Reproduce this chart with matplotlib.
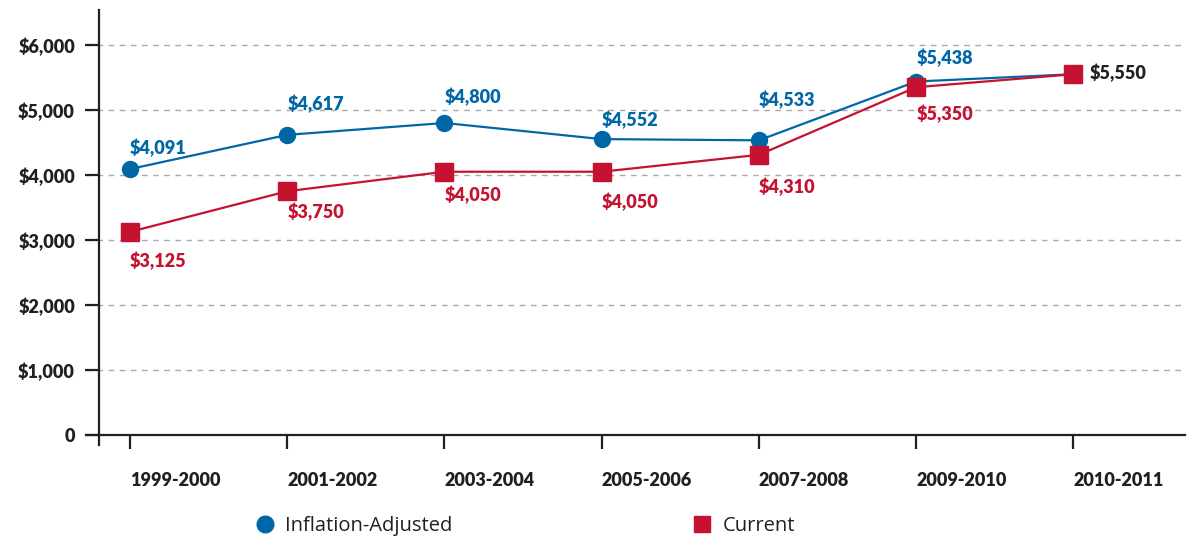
import matplotlib
matplotlib.use("Agg")
import matplotlib.pyplot as plt
from matplotlib.lines import Line2D

plt.rcParams['font.family'] = ['Open Sans', 'DejaVu Sans']
BOLD_FONT = ['Lato', 'DejaVu Sans']

# data
years = ['1999-2000', '2001-2002', '2003-2004', '2005-2006',
         '2007-2008', '2009-2010', '2010-2011']
inflation_adjusted = [4091, 4617, 4800, 4552, 4533, 5438, 5550]
current = [3125, 3750, 4050, 4050, 4310, 5350, 5550]
y_ticks = [0, 1000, 2000, 3000, 4000, 5000, 6000]

BLUE = '#0067a6'
RED = '#c41230'
DARK = '#231f20'

# label offsets in points (dx, dy), label centred vertically
blue_offsets = [(0, 15), (0, 22), (0, 19), (0, 14), (0, 29), (0, 17), None]
red_offsets = [(0, -21), (0, -15), (0, -17), (0, -22), (0, -23), (0, -19), (12, 1)]

fig = plt.figure(figsize=(11.91, 5.36), dpi=100)
ax = fig.add_axes([86 / 1191, 91 / 536, 1099 / 1191, 435 / 536])

# spines first: set_position resets the tick labels
for s in ['top', 'right']:
    ax.spines[s].set_visible(False)
ax.spines['left'].set_position(('data', -0.2))
ax.spines['bottom'].set_position(('data', 0))
for s in ['left', 'bottom']:
    ax.spines[s].set_color(DARK)
    ax.spines[s].set_linewidth(1.6)

x = list(range(len(years)))
ax.plot(x, inflation_adjusted, color=BLUE, lw=1.6, marker='o', ms=11.5,
        zorder=3, clip_on=False)
ax.plot(x, current, color=RED, lw=1.6, marker='s', ms=12.5,
        zorder=4, clip_on=False)

for i, v in enumerate(inflation_adjusted):
    off = blue_offsets[i]
    if off is None:
        continue
    ax.annotate(f'${v:,}', (x[i], v), xytext=off, textcoords='offset points',
                ha='left', va='center', color=BLUE, fontsize=13,
                fontweight='heavy', family=BOLD_FONT)
for i, v in enumerate(current):
    last = i == len(current) - 1
    ax.annotate(f'${v:,}', (x[i], v), xytext=red_offsets[i],
                textcoords='offset points', ha='left', va='center',
                color=DARK if last else RED, fontsize=13, fontweight='heavy',
                family=BOLD_FONT)

ax.set_xlim(-0.28, 6.71)
ax.set_ylim(-154, 6538)
ax.set_xticks(x)
ax.set_xticklabels(years, fontsize=13, fontweight='heavy', color=DARK,
                   family=BOLD_FONT, ha='left')
ax.set_yticks(y_ticks)
ax.set_yticklabels(['0'] + [f'${t:,}' for t in y_ticks[1:]],
                   fontsize=13, fontweight='heavy', color=DARK,
                   family=BOLD_FONT)

for t in y_ticks[1:]:
    ax.axhline(t, color='#a7a9ac', lw=1, ls=(0, (4, 4)), zorder=1)

ax.tick_params(axis='y', length=10, width=1.6, color=DARK, pad=7)
ax.tick_params(axis='x', length=10, width=1.6, color=DARK, pad=17)

handles = [
    Line2D([], [], color=BLUE, marker='o', ls='none', ms=12),
    Line2D([], [], color=RED, marker='s', ls='none', ms=11.5),
]
fig.legend(handles, ['Inflation-Adjusted', 'Current'], loc='center',
           bbox_to_anchor=(525 / 1191, 10 / 536), ncol=2, frameon=False,
           fontsize=14.5, columnspacing=11.9, handletextpad=0.5,
           handlelength=1.0, labelcolor=DARK)

fig.savefig('out.png', dpi=100)
